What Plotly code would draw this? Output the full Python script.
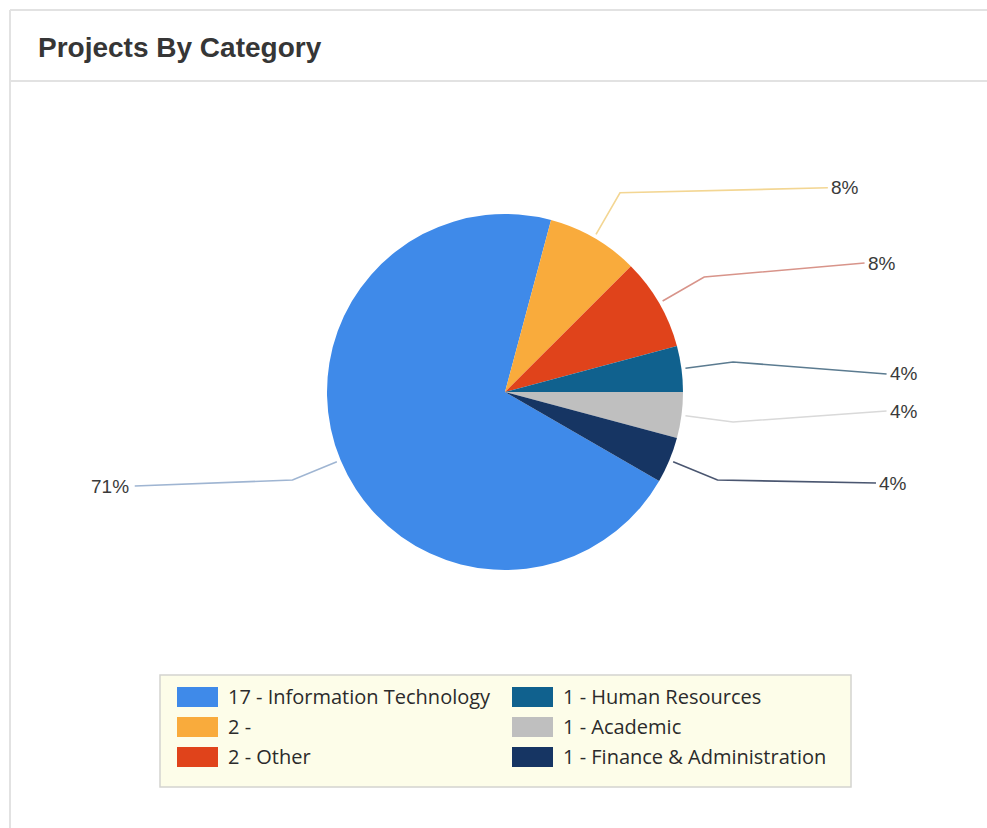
import math
import plotly.graph_objects as go

# ---- data ----
categories = ["Information Technology", "", "Other", "Human Resources",
              "Academic", "Finance & Administration"]
counts = [17, 2, 2, 1, 1, 1]
colors = ["#3f8ae9", "#f9ab3c", "#e0431b", "#10618e", "#bfbfbf", "#163563"]
line_colors = ["#9fb5d2", "#f3d693", "#d8948a", "#5b7b90", "#d9d9d9", "#4a5670"]

# ---- layout constants (pixels) ----
W, H = 987, 828
CX, CY, R = 505, 392, 178          # pie centre and radius
ROTATION = 120                     # first slice start, clockwise from 12 o'clock
ELBOW = R + 52                     # radius of the leader-line elbow
LABEL_RING = 382                   # labels sit on this circle
label_dy = [6, -5, -14, 12, -11, 3]  # vertical nudges keeping labels apart


def px(x):
    return x / W


def py(y):
    return 1 - y / H


total = sum(counts)
legend_labels = [f"{c} - {n}".strip() for c, n in zip(counts, categories)]
pct_labels = [f"{round(c / total * 100)}%" for c in counts]

fig = go.Figure()
fig.add_trace(go.Pie(
    labels=legend_labels,
    values=counts,
    sort=False,
    direction="clockwise",
    rotation=ROTATION,
    marker=dict(colors=colors, line=dict(width=0)),
    textinfo="none",
    showlegend=False,
    domain=dict(x=[px(CX - R), px(CX + R)], y=[py(CY + R), py(CY - R)]),
))

shapes = []
annotations = []

# panel frame and header separator
frame = "#e2e2e2"
shapes.append(dict(type="line", xref="paper", yref="paper",
                   x0=px(10), x1=1, y0=py(10), y1=py(10),
                   line=dict(color=frame, width=2)))
shapes.append(dict(type="line", xref="paper", yref="paper",
                   x0=px(10), x1=px(10), y0=py(10), y1=0,
                   line=dict(color=frame, width=2)))
shapes.append(dict(type="line", xref="paper", yref="paper",
                   x0=px(10), x1=1, y0=py(81), y1=py(81),
                   line=dict(color=frame, width=2)))
annotations.append(dict(text="<b>Projects By Category</b>", xref="paper", yref="paper",
                        x=px(36), y=py(47), xanchor="left", yanchor="middle",
                        showarrow=False,
                        font=dict(family="Liberation Sans, Arial", size=28, color="#363636")))

# leader lines and percentage labels
cum = 0
for i, c in enumerate(counts):
    mid = math.radians(ROTATION + (cum + c / 2) / total * 360)
    cum += c
    sx, sy = math.sin(mid), -math.cos(mid)
    x0, y0 = CX + (R + 4) * sx, CY + (R + 4) * sy
    x1, y1 = CX + ELBOW * sx, CY + ELBOW * sy
    y2 = y1 + label_dy[i]
    half = math.sqrt(LABEL_RING ** 2 - (y2 - CY) ** 2)
    right = sx >= 0
    x2 = CX + half if right else CX - half
    path = f"M {px(x0)},{py(y0)} L {px(x1)},{py(y1)} L {px(x2)},{py(y2)}"
    shapes.append(dict(type="path", xref="paper", yref="paper", path=path,
                       line=dict(color=line_colors[i], width=1.6)))
    annotations.append(dict(text=pct_labels[i], xref="paper", yref="paper",
                            x=px(x2 + 1 if right else x2 - 4), y=py(y2),
                            xanchor="left" if right else "right", yanchor="middle",
                            showarrow=False,
                            font=dict(family="Liberation Sans, Arial", size=19,
                                      color="#3a3a3a")))

# legend box, two columns of three entries
LEG_X0, LEG_Y0, LEG_X1, LEG_Y1 = 160, 675, 851, 787
shapes.append(dict(type="rect", xref="paper", yref="paper",
                   x0=px(LEG_X0), x1=px(LEG_X1), y0=py(LEG_Y1), y1=py(LEG_Y0),
                   fillcolor="#fdfde9", line=dict(color="#d4d4d0", width=1.5),
                   layer="below"))
col_x = [177, 512]
row_y0, row_step = 697, 30
sw_w, sw_h = 41, 20
for i, lab in enumerate(legend_labels):
    col, row = divmod(i, 3)
    sx0 = col_x[col]
    cy = row_y0 + row * row_step
    shapes.append(dict(type="rect", xref="paper", yref="paper",
                       x0=px(sx0), x1=px(sx0 + sw_w),
                       y0=py(cy + sw_h / 2), y1=py(cy - sw_h / 2),
                       fillcolor=colors[i], line=dict(width=0)))
    annotations.append(dict(text=lab, xref="paper", yref="paper",
                            x=px(sx0 + sw_w + 8), y=py(cy - 1),
                            xanchor="left", yanchor="middle", showarrow=False,
                            font=dict(family="Open Sans", size=20, color="#2b2b2b")))

fig.update_layout(
    width=W, height=H,
    margin=dict(l=0, r=0, t=0, b=0),
    paper_bgcolor="white",
    plot_bgcolor="white",
    shapes=shapes,
    annotations=annotations,
)

fig.write_html("out.html", config={"displayModeBar": False})
